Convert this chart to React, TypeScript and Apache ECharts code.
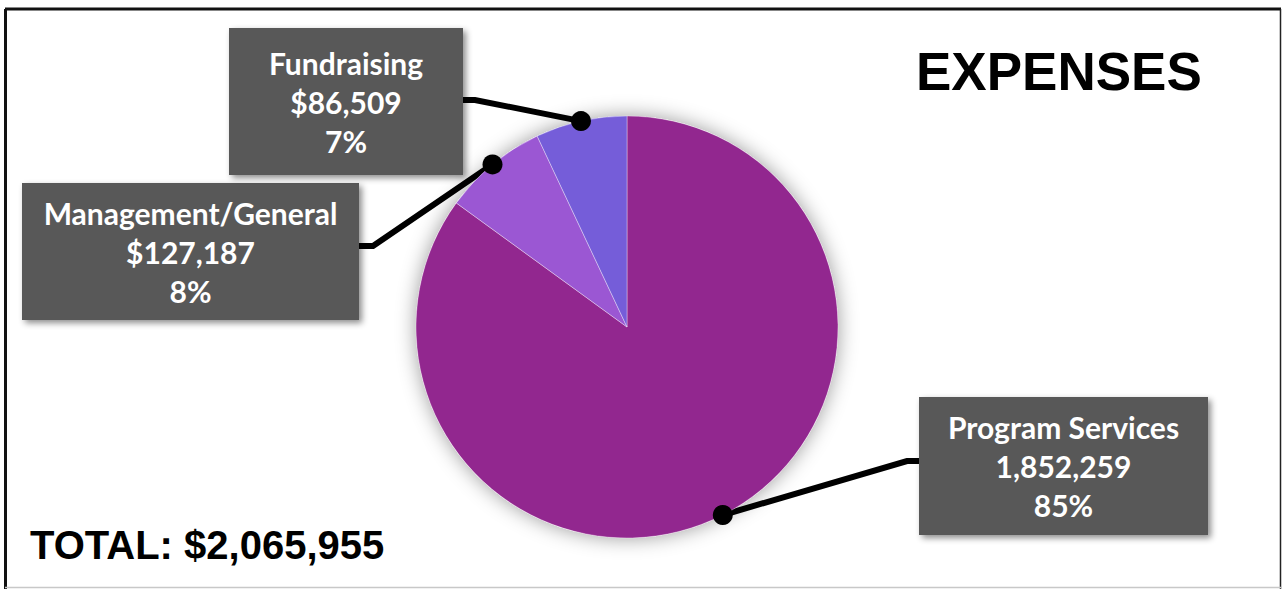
import React, { useEffect, useRef } from "react";
import * as echarts from "echarts";

// ---- data ----
const categories = ["Program Services", "Management/General", "Fundraising"];
const amounts = [1852259, 127187, 86509];
const amountPrefixes = ["", "$", "$"];
const shares = [85, 8, 7];
const sliceColors = ["#92278F", "#9B57D3", "#755DD9"];
const chartTitle = "EXPENSES";
const totalAmount = 2065955;

// ---- layout ----
const CX = 627;
const CY = 327;
const R = 211;
const boxes = [
  { cx: 1063.5, cy: 466, w: 289, h: 138, elbow: [907, 461], end: [919, 461] },
  { cx: 190.5, cy: 251.5, w: 337, h: 137, elbow: [373, 246], end: [359, 246] },
  { cx: 346, cy: 101.5, w: 234, h: 147, elbow: [475, 100], end: [463, 100] },
];

function sliceAnchors(): number[][] {
  const sum = shares.reduce((a, b) => a + b, 0);
  let acc = 0;
  return shares.map((s) => {
    const mid = ((acc + s / 2) / sum) * 360;
    acc += s;
    const rad = (mid * Math.PI) / 180;
    return [CX + R * Math.sin(rad), CY - R * Math.cos(rad)];
  });
}

export default function App() {
  const ref = useRef<HTMLDivElement>(null);

  useEffect(() => {
    if (!ref.current) return;
    const chart = echarts.init(ref.current, undefined, { renderer: "svg" });
    const anchors = sliceAnchors();

    const labelFont = {
      color: "#ffffff",
      fontFamily: "Lato",
      fontWeight: "bold" as const,
      fontSize: 30,
      lineHeight: 39,
    };

    chart.setOption({
      animation: false,
      backgroundColor: "#ffffff",
      title: [
        {
          text: chartTitle,
          left: 916,
          top: 45,
          padding: 0,
          textStyle: {
            fontFamily: "Liberation Sans",
            fontWeight: "bold",
            fontSize: 53,
            lineHeight: 53,
            color: "#000000",
          },
        },
        {
          text: `TOTAL: $${totalAmount.toLocaleString("en-US")}`,
          left: 30,
          top: 525,
          padding: 0,
          textStyle: {
            fontFamily: "Liberation Sans",
            fontWeight: "bold",
            fontSize: 40,
            lineHeight: 40,
            color: "#000000",
          },
        },
      ],
      graphic: [
        { type: "line", shape: { x1: 5, y1: 9, x2: 1281, y2: 9 }, style: { stroke: "#111", lineWidth: 3 }, silent: true },
        { type: "line", shape: { x1: 5.5, y1: 9, x2: 5.5, y2: 589 }, style: { stroke: "#111", lineWidth: 3 }, silent: true },
        { type: "line", shape: { x1: 1280.5, y1: 9, x2: 1280.5, y2: 589 }, style: { stroke: "#222", lineWidth: 1.5 }, silent: true },
        { type: "line", shape: { x1: 5, y1: 587.5, x2: 1281, y2: 587.5 }, style: { stroke: "#c8c8c8", lineWidth: 1.5 }, silent: true },
        {
          type: "circle",
          z: 0,
          silent: true,
          shape: { cx: CX, cy: CY, r: R },
          style: { fill: "#ffffff", shadowBlur: 20, shadowColor: "rgba(0,0,0,0.4)" },
        },
        ...anchors.map((p) => ({
          type: "circle",
          z: 100,
          silent: true,
          shape: { cx: p[0], cy: p[1], r: 10 },
          style: { fill: "#000000" },
        })),
      ],
      series: [
        {
          type: "pie",
          center: [CX, CY],
          radius: R,
          startAngle: 90,
          clockwise: true,
          avoidLabelOverlap: false,
          silent: true,
          emphasis: { disabled: true },
          itemStyle: { borderColor: "rgba(255,255,255,0.35)", borderWidth: 1 },
          data: categories.map((name, i) => ({
            name,
            value: shares[i],
            itemStyle: { color: sliceColors[i] },
            label: { width: boxes[i].w, height: boxes[i].h },
          })),
          label: {
            show: true,
            position: "outside",
            ...labelFont,
            formatter: (p: any) => {
              const i = p.dataIndex;
              return `${categories[i]}\n${amountPrefixes[i]}${amounts[i].toLocaleString("en-US")}\n${shares[i]}%`;
            },
            backgroundColor: "#595959",
            padding: 0,
            align: "center",
            verticalAlign: "middle",
            shadowBlur: 6,
            shadowColor: "rgba(0,0,0,0.45)",
            shadowOffsetX: 3,
            shadowOffsetY: 3,
          },
          labelLine: {
            show: true,
            length: 10,
            length2: 10,
            lineStyle: { color: "#000000", width: 6 },
          },
          labelLayout: (p: any) => {
            const b = boxes[p.dataIndex];
            return {
              x: b.cx,
              y: b.cy,
              align: "center",
              verticalAlign: "middle",
              labelLinePoints: [anchors[p.dataIndex], b.elbow, b.end],
            };
          },
        },
      ],
    });

    return () => chart.dispose();
  }, []);

  return (
    <div
      ref={ref}
      style={{ position: "absolute", left: 0, top: 0, width: 1284, height: 589, background: "#fff" }}
    />
  );
}
